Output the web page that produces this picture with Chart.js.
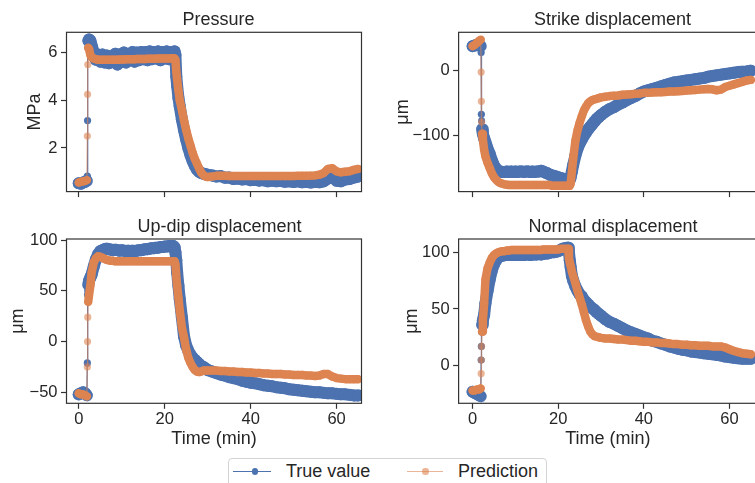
<!DOCTYPE html>
<html lang="en">
<head>
    <meta charset="UTF-8">
    <title>True value vs prediction</title>
    <script src="https://cdnjs.cloudflare.com/ajax/libs/Chart.js/4.4.1/chart.umd.min.js"></script>
    <style>
        body {
            margin: 0;
            width: 755px;
            height: 483px;
            overflow: hidden;
            background: #ffffff;
            font-family: "Liberation Sans", Arial, sans-serif;
        }
        #fig {
            position: relative;
            width: 755px;
            height: 483px;
        }
        #fig canvas {
            position: absolute;
        }
        #legend {
            position: absolute;
            left: 228px;
            top: 458px;
            width: 317px;
            height: 40px;
            border: 1px solid #d4d4d4;
            border-radius: 4px;
            background: #fff;
            color: #262626;
            font-size: 18px;
        }
        #legend .line {
            position: absolute;
            top: 11.5px;
            height: 1.4px;
        }
        #legend .dot {
            position: absolute;
            top: 9px;
            width: 6.5px;
            height: 6.5px;
            border-radius: 50%;
        }
        #legend .label {
            position: absolute;
            top: 1px;
            line-height: 22px;
            white-space: nowrap;
        }
    </style>
</head>
<body>
<div id="fig">
    <canvas id="cPressure"></canvas>
    <canvas id="cStrike"></canvas>
    <canvas id="cUpdip"></canvas>
    <canvas id="cNormal"></canvas>
    <div id="legend">
        <span class="line" style="left:4px;width:38px;background:#4c72b0"></span>
        <span class="dot" style="left:22.5px;background:#4c72b0"></span>
        <span class="label" style="left:57px">True value</span>
        <span class="line" style="left:178px;width:36px;background:rgba(221,132,82,0.6)"></span>
        <span class="dot" style="left:193px;background:rgba(221,132,82,0.6)"></span>
        <span class="label" style="left:229px">Prediction</span>
    </div>
</div>

<script>
// time axis shared by every panel (minutes)
const timeMin = [
    0, 0.5, 1, 1.5, 1.9, 2, 2.05, 2.1, 2.2, 2.4, 2.7,
    3, 3.5, 4, 4.5, 5, 5.5, 6, 6.5, 7, 7.5, 8, 8.5, 9, 9.5, 10, 10.5, 11, 11.5, 12, 12.5,
    13, 13.5, 14, 14.5, 15, 15.5, 16, 16.5, 17, 17.5, 18, 18.5, 19, 19.5, 20, 20.5, 21, 21.5, 22,
    22.3, 22.5, 22.7, 22.9,
    23.2, 23.5, 24, 24.5, 25, 25.5, 26, 26.5, 27, 27.5, 28, 28.5, 29, 29.5, 30,
    31, 32, 33, 34, 35, 36, 37, 38, 39, 40, 41, 42, 43, 44, 45, 46, 47, 48, 49, 50,
    51, 52, 53, 54, 55, 56, 57, 58, 59, 60, 61, 62, 63, 64, 65
];

const xTicks = [0, 20, 40, 60];
const pressureTicks = [2, 4, 6];
const strikeTicks = [-100, 0];
const updipTicks = [-50, 0, 50, 100];
const normalTicks = [0, 50, 100];

// Pressure (MPa)
const pressureTrue = [
    0.52, 0.5, 0.55, 0.58, 0.62, 0.82, 3.15, 6.2, 6.5, 6.55, 6.5,
    6.3, 6.0, 5.7, 5.92, 5.62, 5.92, 5.58, 5.88, 5.55, 5.85, 5.68, 5.95, 5.5, 5.92, 5.62, 6.0, 5.58, 5.92, 5.68, 6.02,
    5.62, 6.0, 5.68, 6.02, 5.72, 6.02, 5.68, 6.05, 5.72, 6.02, 5.75, 6.05, 5.68, 6.02, 5.75, 6.05, 5.72, 6.02, 5.8,
    6.05, 5.9, 5.0, 4.6,
    4.1, 3.75, 3.2, 2.75, 2.35, 2.0, 1.7, 1.45, 1.25, 1.1, 1.0, 0.95, 0.92, 0.9, 0.88,
    0.85, 0.8, 0.82, 0.75, 0.76, 0.7, 0.72, 0.68, 0.7, 0.65, 0.67, 0.63, 0.65, 0.6, 0.63, 0.6, 0.62, 0.58, 0.6, 0.57,
    0.6, 0.56, 0.58, 0.55, 0.58, 0.56, 0.6, 0.72, 0.8, 0.62, 0.6, 0.68, 0.7, 0.76, 0.8
];
const pressurePred = [
    0.55, 0.58, 0.6, 0.62, 0.65, 2.5, 4.25, 5.5, 6.2, 6.15, 5.9,
    5.8, 5.75, 5.72, 5.7, 5.7, 5.7, 5.7, 5.7, 5.7, 5.7, 5.7, 5.7, 5.7, 5.71, 5.71, 5.71, 5.72, 5.72, 5.72, 5.72,
    5.72, 5.73, 5.73, 5.73, 5.73, 5.73, 5.74, 5.74, 5.74, 5.74, 5.74, 5.75, 5.75, 5.75, 5.75, 5.75, 5.75, 5.76, 5.76,
    5.75, 5.7, 5.2, 4.85,
    4.4, 4.0, 3.6, 3.15, 2.75, 2.4, 2.1, 1.8, 1.55, 1.35, 1.15, 0.97, 0.86, 0.8, 0.78,
    0.8, 0.83, 0.84, 0.83, 0.82, 0.82, 0.82, 0.82, 0.82, 0.82, 0.82, 0.82, 0.82, 0.82, 0.82, 0.82, 0.82, 0.82, 0.82, 0.82,
    0.83, 0.83, 0.83, 0.84, 0.85, 0.88, 0.95, 1.12, 1.15, 1.02, 0.98, 1.0, 1.02, 1.08, 1.12
];

// Strike displacement (um)
const strikeTrue = [
    38, 39, 40, 40, 38, 28, -67, -77, -90, -97, -104,
    -110, -120, -128, -138, -146, -151, -154, -155, -156, -156, -155, -156, -155, -156, -155, -156, -155, -155, -156, -155,
    -155, -156, -155, -156, -155, -155, -154, -155, -157, -158, -160, -161, -162, -163, -164, -165, -166, -167, -168,
    -169, -170, -168, -164,
    -155, -145, -131, -120, -112, -106, -100, -95, -90, -86, -82, -78, -74, -71, -68,
    -63, -59, -56, -52, -49, -45, -42, -39, -35, -32, -30, -28, -26, -24, -22, -20, -18, -17, -16, -15,
    -14, -13, -12, -11, -9, -8, -7, -6, -5, -4, -3, -2, -1.5, -1, 0
];
const strikePred = [
    38, 40, 43, 46, 48, -2, -47, -79, -97, -106, -122,
    -132, -142, -150, -158, -164, -168, -171, -173, -174, -175, -175.5, -176, -176, -176, -176, -176, -176, -176, -176, -176,
    -176, -176, -176, -176, -176, -176, -176, -176, -176, -176, -176, -177, -177, -177, -177, -177, -177, -177, -177,
    -177, -177, -177, -174,
    -155, -135, -108, -92, -80, -70, -61, -55, -50, -47, -45, -44, -43, -42, -41,
    -40, -39, -38.5, -38, -37, -36.5, -36, -35.5, -35, -34, -34, -33.5, -33, -33, -32.5, -32, -32, -31.5, -31, -30.5,
    -30, -29.5, -29, -28.5, -28, -28.5, -30, -29, -25, -23, -21, -19, -17, -15, -14
];

// Up-dip displacement (um)
const updipTrue = [
    -52, -51, -50, -51, -53, -21, 46, 50, 56, 60, 63,
    66, 74, 81, 86, 89, 90, 91, 91.5, 91, 90.5, 90, 90.5, 90, 89.5, 90, 89.5, 89, 89.5, 89, 89.5,
    89, 89.5, 90, 90, 90.5, 91, 91, 91.5, 92, 92, 92.5, 92.5, 93, 93, 93.5, 93.5, 94, 94, 94,
    93, 88, 80, 68,
    55, 42, 24, 5, -4, -9, -13, -16, -18, -20, -22, -24, -25, -26.5, -28,
    -29.5, -31, -32.5, -33.5, -35, -36, -37, -38.5, -39.5, -40.5, -41, -42, -43, -43.5, -44, -45, -45.5, -46, -47, -47.5,
    -48, -48.5, -49, -49.5, -50, -50, -50.5, -51, -51, -51.5, -52, -52, -52.5, -53, -53
];
const updipPred = [
    -51, -52, -52, -53, -54, -25, 0, 24, 39, 46, 55,
    68, 78, 82, 84, 83.5, 82.5, 81.5, 80.5, 80, 79.5, 79.5, 79, 79, 79, 79, 79, 79, 79, 79, 79,
    79, 79, 79, 79, 79, 79, 79, 79, 79, 79, 79, 79, 79, 79, 79, 79, 79, 79, 79,
    79, 76, 64, 55,
    43, 31, 14, 4, -8, -16, -21, -25, -28, -29.5, -30, -29.5, -28.5, -28.5, -28.5,
    -28.5, -28.5, -29, -29, -29.5, -29.5, -30, -30, -30.5, -30.5, -31, -31, -31.5, -31.5, -32, -32, -32, -32.5, -32.5, -33,
    -33, -33, -33.5, -33.5, -34, -33.5, -32, -32, -34.5, -36, -36.5, -37, -37, -37, -37
];

// Normal displacement (um)
const normalTrue = [
    -23, -24, -25, -26, -27, 5, 17, 30, 36, 40, 45,
    55, 66, 76, 84, 89.5, 93, 95.5, 96.5, 97, 97.5, 97.5, 98, 97.5, 98, 97.5, 98, 97.5, 98, 97.5, 98,
    98, 97.5, 98, 98, 98, 98.5, 98, 98.5, 99, 99, 99.5, 100, 100, 100.5, 101, 102, 103, 103.5, 104,
    104, 100, 93, 87,
    79, 75, 70, 66, 63, 61, 58, 56, 54, 52, 50.5, 49, 47, 45.5, 44,
    41, 38.5, 37, 35, 33, 31, 29.5, 28, 26.5, 25, 24, 22, 21, 19.5, 18.5, 17, 16, 15, 14, 13.5,
    12.5, 12, 11.5, 11, 10.5, 10, 9.5, 9, 8, 7.5, 7, 6.5, 6, 6, 6
];
const normalPred = [
    -22, -22, -21, -21, -20, -7, 5, 17, 30, 40, 55,
    76, 86, 91, 95, 97.5, 99, 100, 100.5, 101, 101, 101.5, 101.5, 102, 102, 102, 102, 102, 102, 102, 102,
    102, 102, 102, 102, 102, 102, 102, 102.5, 102.5, 102.5, 102.5, 102.5, 102.5, 102.5, 102.5, 103, 103, 103, 103,
    103, 95, 91, 88,
    83, 79, 73, 66, 60, 54, 47, 40, 34.5, 30, 27.5, 26, 25.5, 25, 24.5,
    24, 24, 23.5, 23, 23, 22.5, 22, 22, 21.5, 21, 21, 20.5, 20.5, 20, 20, 19.5, 19, 19, 18.5, 18.5,
    18, 18, 17.5, 17.5, 17.5, 17, 17, 17, 16, 14.5, 13, 12, 11, 10.5, 10
];

const panels = [
    { canvas: 'cPressure', title: 'Pressure', yLabel: 'MPa', yMin: 0.17, yMax: 6.85, yTicks: pressureTicks,
      xMin: -2.85, xMax: 65.8, actual: pressureTrue, predicted: pressurePred, xLabels: false,
      box: { left: 24.2, top: 0, width: 389, height: 205, yAxisW: 42.5, rightW: 51.5, xAxisH: 8.3, titleTop: 9.7, titleBottom: 1 } },
    { canvas: 'cStrike', title: 'Strike displacement', yLabel: 'μm', yMin: -186.1, yMax: 59.3, yTicks: strikeTicks,
      xMin: -3.27, xMax: 66.5, actual: strikeTrue, predicted: strikePred, xLabels: false,
      box: { left: 391.7, top: 0, width: 441, height: 205, yAxisW: 66.6, rightW: 75.7, xAxisH: 8.3, titleTop: 9.7, titleBottom: 1 } },
    { canvas: 'cUpdip', title: 'Up-dip displacement', yLabel: 'μm', yMin: -60.8, yMax: 101, yTicks: updipTicks,
      xMin: -2.85, xMax: 65.8, actual: updipTrue, predicted: updipPred, xLabels: true,
      box: { left: 7.2, top: 200, width: 425, height: 250, yAxisW: 59.5, rightW: 70.5, xAxisH: 46.7, titleTop: 16.7, titleBottom: 0.7 } },
    { canvas: 'cNormal', title: 'Normal displacement', yLabel: 'μm', yMin: -33.2, yMax: 111.7, yTicks: normalTicks,
      xMin: -3.27, xMax: 66.5, actual: normalTrue, predicted: normalPred, xLabels: true,
      box: { left: 400.7, top: 200, width: 424, height: 250, yAxisW: 57.6, rightW: 67.7, xAxisH: 46.7, titleTop: 16.7, titleBottom: 0.7 } }
];

Chart.defaults.font.family = '"Liberation Sans", Arial, sans-serif';
Chart.defaults.color = '#262626';

const blue = '#4c72b0';
const orange = '#dd8452';
const orangePale = 'rgba(221, 132, 82, 0.6)';
const axisColor = '#333333';

function toPoints(vals) {
    if (vals.length !== timeMin.length) {
        throw new Error('length mismatch ' + vals.length + ' vs ' + timeMin.length);
    }
    return vals.map((v, i) => ({ x: timeMin[i], y: v }));
}

const minusSign = v => String(v).replace('-', '\u2212');

// the jump at ~2 min is sampled finely: draw it as a thin line between single markers,
// everything else is dense enough in the original to look like a solid band
const JUMP_DT = 0.11;
const isJump = ctx => ctx.p1.parsed.x - ctx.p0.parsed.x < JUMP_DT;
const isJumpPoint = i =>
    (i > 0 && timeMin[i] - timeMin[i - 1] < JUMP_DT) ||
    (i < timeMin.length - 1 && timeMin[i + 1] - timeMin[i] < JUMP_DT);

// box around the plotting area (all four spines)
const framePlugin = {
    id: 'frame',
    afterDatasetsDraw(chart) {
        const { ctx, chartArea: a } = chart;
        ctx.save();
        ctx.strokeStyle = axisColor;
        ctx.lineWidth = 1.2;
        ctx.strokeRect(a.left, a.top, a.right - a.left, a.bottom - a.top);
        ctx.restore();
    }
};

function drawPanel(p) {
    const b = p.box;
    const canvas = document.getElementById(p.canvas);
    canvas.width = b.width;
    canvas.height = b.height;
    canvas.style.left = b.left + 'px';
    canvas.style.top = b.top + 'px';

    new Chart(canvas, {
        type: 'line',
        data: {
            datasets: [
                {
                    label: 'Prediction',
                    data: toPoints(p.predicted),
                    borderColor: orange,
                    backgroundColor: orangePale,
                    borderWidth: 8.5,
                    borderCapStyle: 'round',
                    borderJoinStyle: 'round',
                    segment: {
                        borderWidth: ctx => isJump(ctx) ? 1.3 : 8.5,
                        borderColor: ctx => isJump(ctx) ? orangePale : orange
                    },
                    pointRadius: ctx => isJumpPoint(ctx.dataIndex) ? 3.6 : 4.2,
                    pointBorderWidth: 0,
                    order: 0,
                    yAxisID: 'y'
                },
                {
                    label: 'True value',
                    data: toPoints(p.actual),
                    borderColor: blue,
                    backgroundColor: blue,
                    borderWidth: 12,
                    borderCapStyle: 'round',
                    borderJoinStyle: 'round',
                    segment: {
                        borderWidth: ctx => isJump(ctx) ? 1.3 : 12
                    },
                    pointRadius: ctx => isJumpPoint(ctx.dataIndex) ? 3.6 : 6,
                    pointBorderWidth: 0,
                    order: 1,
                    yAxisID: 'y'
                }
            ]
        },
        options: {
            responsive: false,
            animation: false,
            events: [],
            layout: { padding: 0 },
            plugins: {
                legend: { display: false },
                tooltip: { enabled: false },
                title: {
                    display: true,
                    text: p.title,
                    color: '#262626',
                    font: { size: 18, weight: 'normal' },
                    padding: { top: b.titleTop, bottom: b.titleBottom }
                }
            },
            scales: {
                x: {
                    type: 'linear',
                    min: p.xMin,
                    max: p.xMax,
                    afterBuildTicks: s => { s.ticks = xTicks.map(v => ({ value: v })); },
                    afterFit: s => { s.height = b.xAxisH; },
                    grid: { drawOnChartArea: false, tickLength: 5.5, tickColor: axisColor, tickWidth: 1.2 },
                    border: { display: false },
                    ticks: { display: p.xLabels, padding: 0.5, maxRotation: 0, color: '#262626', font: { size: 16.5 } },
                    title: { display: p.xLabels, text: 'Time (min)', color: '#262626', font: { size: 18 }, padding: 0 }
                },
                y: {
                    type: 'linear',
                    position: 'left',
                    min: p.yMin,
                    max: p.yMax,
                    afterBuildTicks: s => { s.ticks = p.yTicks.map(v => ({ value: v })); },
                    afterFit: s => { s.width = b.yAxisW; },
                    grid: { drawOnChartArea: false, tickLength: 5.5, tickColor: axisColor, tickWidth: 1.2 },
                    border: { display: false },
                    ticks: { padding: 3.5, color: '#262626', font: { size: 16.5 }, callback: minusSign },
                    title: { display: true, text: p.yLabel, color: '#262626', font: { size: 18 }, padding: 0 }
                },
                // empty right-hand scale, only reserves room so the title sits where it should
                pad: {
                    type: 'linear',
                    position: 'right',
                    display: true,
                    ticks: { display: false },
                    grid: { display: false },
                    border: { display: false },
                    afterFit: s => { s.width = b.rightW; }
                }
            }
        },
        plugins: [framePlugin]
    });
}

panels.forEach(drawPanel);
</script>
</body>
</html>
